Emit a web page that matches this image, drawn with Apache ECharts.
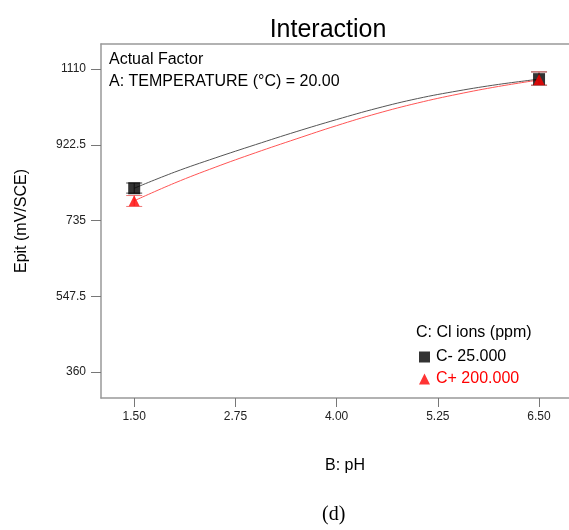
<!DOCTYPE html>
<html>
<head>
<meta charset="utf-8">
<script src="https://cdn.jsdelivr.net/npm/echarts@6/dist/echarts.min.js"></script>
<style>
html,body{margin:0;padding:0;background:#fff;}
#chart{width:569px;height:530px;}
</style>
</head>
<body>
<div id="chart"></div>
<script>
// Data
const xCurve = [1.5, 2.0, 2.5, 3.0, 3.5, 4.0, 4.5, 5.0, 5.5, 6.0, 6.5];
const curveLow = [815, 855, 890, 923, 955, 985, 1013, 1037, 1056, 1072, 1085];   // C- 25.000
const curveHigh = [784, 828, 867, 903, 937, 970, 1000, 1026, 1048, 1067, 1083];  // C+ 200.000
const pointX = [1.5, 6.5];
const pointLow = [815, 1085];
const pointHigh = [784, 1084];
const errLow = [[803, 828], [1070, 1103]];
const errHigh = [[770, 797], [1070, 1103]];
const xTicks = [1.5, 2.75, 4.0, 5.25, 6.5];
const yTicks = [360, 547.5, 735, 922.5, 1110];
const legendTitle = 'C: Cl ions (ppm)';
const seriesNames = ['C- 25.000', 'C+ 200.000'];

const chart = echarts.init(document.getElementById('chart'));
const font = 'Liberation Sans, Arial, sans-serif';

function errSeries(name, ranges, color) {
  return {
    type: 'custom',
    name: name + ' err',
    silent: true,
    z: 3,
    data: pointX.map((x, i) => [x, ranges[i][0], ranges[i][1]]),
    renderItem: function (params, api) {
      const lo = api.coord([api.value(0), api.value(1)]);
      const hi = api.coord([api.value(0), api.value(2)]);
      const w = 8;
      const st = { stroke: color, lineWidth: 1 };
      return {
        type: 'group',
        children: [
          { type: 'line', shape: { x1: lo[0], y1: lo[1], x2: hi[0], y2: hi[1] }, style: st },
          { type: 'line', shape: { x1: lo[0] - w, y1: lo[1], x2: lo[0] + w, y2: lo[1] }, style: st },
          { type: 'line', shape: { x1: hi[0] - w, y1: hi[1], x2: hi[0] + w, y2: hi[1] }, style: st }
        ]
      };
    }
  };
}

const option = {
  backgroundColor: '#fff',
  animation: false,
  title: {
    text: 'Interaction',
    left: 323, top: 13, textAlign: 'center',
    textStyle: { fontFamily: font, fontSize: 25, fontWeight: 'normal', color: '#000' }
  },
  grid: { left: 101, top: 44, right: 0, bottom: 132 },
  legend: {
    orient: 'vertical',
    left: 414, top: 344,
    itemWidth: 11, itemHeight: 11, itemGap: 6,
    data: [
      { name: seriesNames[0], icon: 'rect', textStyle: { color: '#000' } },
      { name: seriesNames[1], icon: 'triangle', textStyle: { color: '#ff0000' } }
    ],
    textStyle: { fontFamily: font, fontSize: 16, padding: [0, 0, 0, 1] }
  },
  xAxis: [{
    type: 'value', min: 1.09, max: 6.87,
    name: 'B: pH', nameLocation: 'middle', nameGap: 60,
    nameTextStyle: { fontFamily: font, fontSize: 16, color: '#000', padding: [0, 0, 0, 20] },
    axisLine: { show: true, lineStyle: { color: '#999', width: 1.5 } },
    axisTick: { show: true, length: 9, customValues: xTicks, lineStyle: { color: '#777' } },
    axisLabel: { customValues: xTicks, formatter: v => v.toFixed(2), fontFamily: font, fontSize: 12, color: '#222', margin: 13 },
    splitLine: { show: false }
  }, {
    type: 'value', position: 'top', min: 1.09, max: 6.87,
    axisLine: { show: true, onZero: false, lineStyle: { color: '#999', width: 1.5 } },
    axisTick: { show: false }, axisLabel: { show: false }, splitLine: { show: false }
  }],
  yAxis: {
    type: 'value', min: 296, max: 1172,
    name: 'Epit (mV/SCE)', nameLocation: 'middle', nameGap: 71, nameRotate: 90,
    nameTextStyle: { fontFamily: font, fontSize: 16, color: '#000' },
    axisLine: { show: true, lineStyle: { color: '#999', width: 1.5 } },
    axisTick: { show: true, length: 10, customValues: yTicks, lineStyle: { color: '#777' } },
    axisLabel: { customValues: yTicks, formatter: v => String(v), fontFamily: font, fontSize: 12, color: '#222', margin: 15 },
    splitLine: { show: false }
  },
  graphic: [
    { type: 'text', left: 109, top: 52, style: { text: 'Actual Factor', font: '16px ' + font, fill: '#000' } },
    { type: 'text', left: 109, top: 74, style: { text: 'A: TEMPERATURE (°C) = 20.00', font: '16px ' + font, fill: '#000' } },
    { type: 'text', left: 416, top: 325, style: { text: legendTitle, font: '16px ' + font, fill: '#000' } },
    { type: 'text', left: 322, top: 505, style: { text: '(d)', font: '20px Liberation Serif, Times New Roman, serif', fill: '#000', textAlign: 'center' } }
  ],
  series: [
    {
      type: 'line', name: seriesNames[0] + ' curve', smooth: 0.4, showSymbol: false, silent: true,
      data: xCurve.map((x, i) => [x, curveLow[i]]),
      lineStyle: { color: '#555', width: 1 }, z: 2
    },
    {
      type: 'line', name: seriesNames[1] + ' curve', smooth: 0.4, showSymbol: false, silent: true,
      data: xCurve.map((x, i) => [x, curveHigh[i]]),
      lineStyle: { color: '#ff5555', width: 1 }, z: 2
    },
    errSeries(seriesNames[0], errLow, '#444'),
    errSeries(seriesNames[1], errHigh, '#ee7777'),
    {
      type: 'scatter', name: seriesNames[0], symbol: 'rect', symbolSize: 12,
      data: pointX.map((x, i) => [x, pointLow[i]]),
      itemStyle: { color: '#000' }, z: 4
    },
    {
      type: 'scatter', name: seriesNames[1], symbol: 'triangle', symbolSize: 11,
      data: pointX.map((x, i) => [x, pointHigh[i]]),
      itemStyle: { color: '#ff0000' }, z: 5
    }
  ]
};
chart.setOption(option);
</script>
</body>
</html>
